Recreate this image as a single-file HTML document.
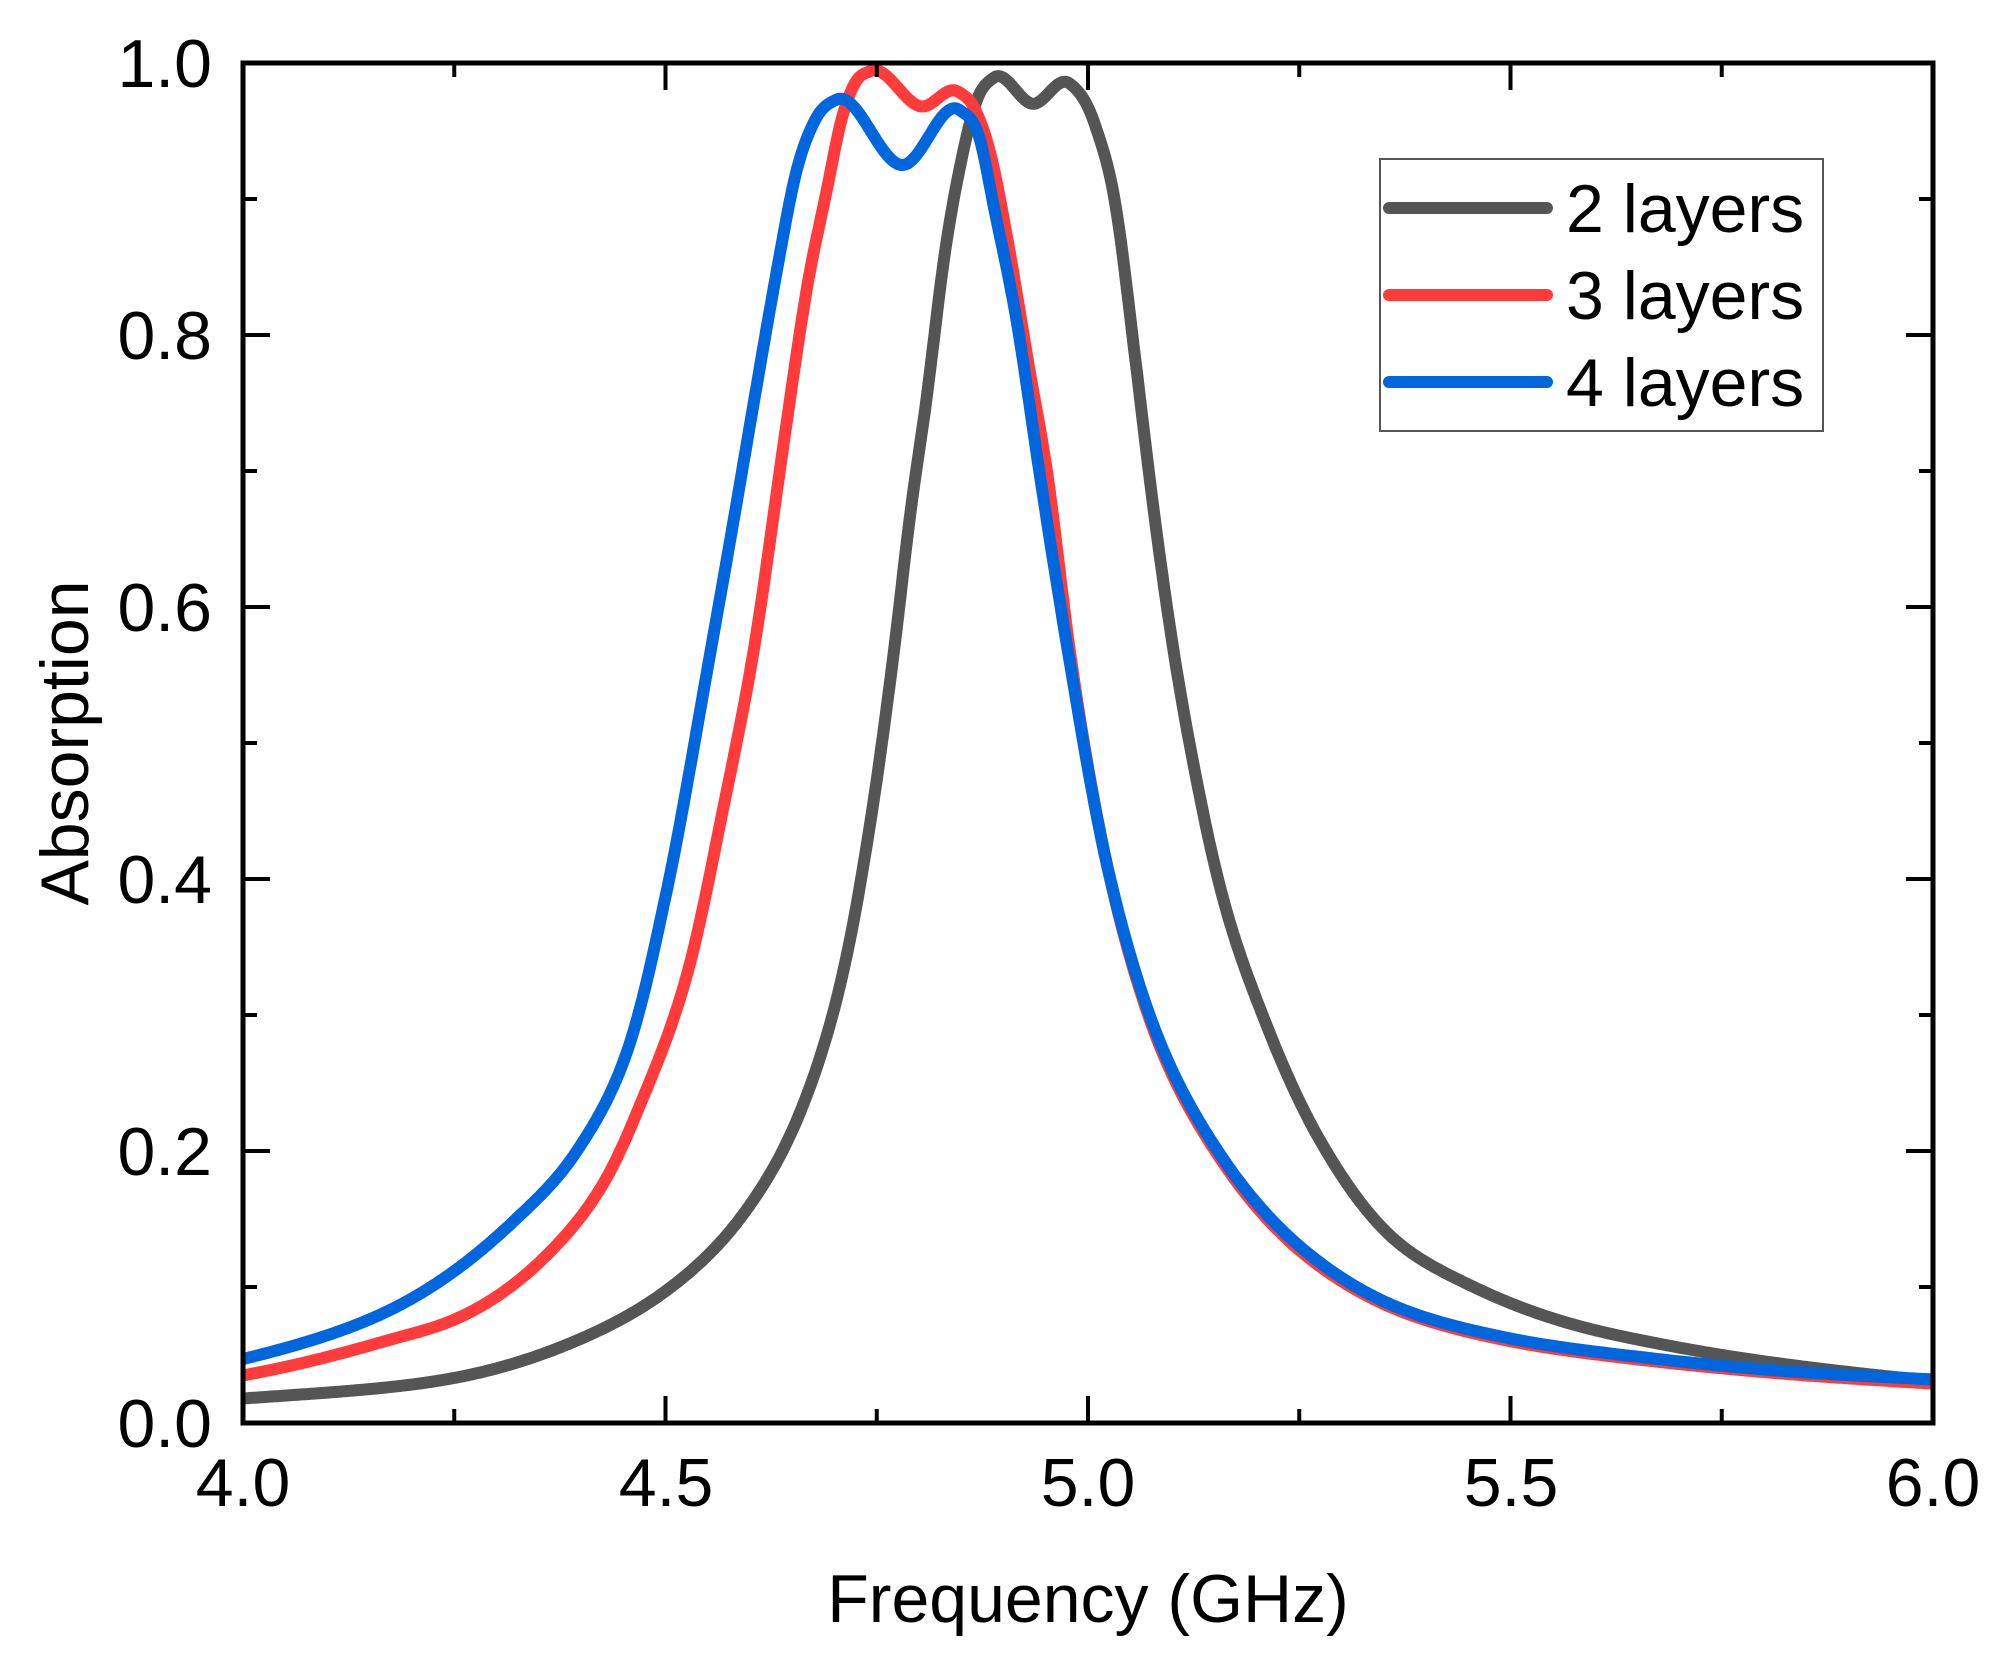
<!DOCTYPE html>
<html><head><meta charset="utf-8"><style>
html,body{margin:0;padding:0;background:#fff;}
svg text{font-family:"Liberation Sans",Arial,sans-serif;fill:#000;}
</style></head><body>
<svg id="s" width="2007" height="1659" viewBox="0 0 2007 1659" xmlns="http://www.w3.org/2000/svg">
<defs><clipPath id="c"><rect x="243" y="63" width="1690" height="1360"/></clipPath></defs>
<g id="curves" clip-path="url(#c)" fill="none" stroke-width="12" stroke-linejoin="round" stroke-linecap="round"></g>
<g id="ticks" stroke="#000" stroke-width="4"></g>
<rect x="243" y="63" width="1690" height="1360" fill="none" stroke="#000" stroke-width="5"/>
<g font-size="68" text-anchor="end">
<text x="212" y="1447">0.0</text>
<text x="212" y="1175">0.2</text>
<text x="212" y="903">0.4</text>
<text x="212" y="631">0.6</text>
<text x="212" y="359">0.8</text>
<text x="212" y="87">1.0</text>
</g>
<g font-size="68" text-anchor="middle">
<text x="243" y="1506">4.0</text>
<text x="666" y="1506">4.5</text>
<text x="1088" y="1506">5.0</text>
<text x="1511" y="1506">5.5</text>
<text x="1933" y="1506">6.0</text>
<text x="1088" y="1622">Frequency (GHz)</text>
<text transform="translate(88,743) rotate(-90)">Absorption</text>
</g>
<rect x="1380" y="159" width="443" height="272" fill="#fff" stroke="#555" stroke-width="2"/>
<g stroke-width="12" stroke-linecap="round">
<line x1="1389" y1="208" x2="1547" y2="208" stroke="#555"/>
<line x1="1389" y1="295" x2="1547" y2="295" stroke="#ff3b3b"/>
<line x1="1389" y1="382" x2="1547" y2="382" stroke="#0066dd"/>
</g>
<g font-size="68">
<text x="1566" y="232">2 layers</text>
<text x="1566" y="319">3 layers</text>
<text x="1566" y="406">4 layers</text>
</g>
</svg>
<script>
var X=function(f){return 243+(f-4)*845;},Y=function(a){return 1423-a*1360;};
var gray=[[4.0,0.018],[4.249,0.033],[4.4,0.062],[4.498,0.096],[4.589,0.151],[4.657,0.225],[4.71,0.331],[4.744,0.448],[4.769,0.561],[4.789,0.665],[4.808,0.749],[4.831,0.862],[4.849,0.925],[4.868,0.972],[4.888,0.989],[4.935,0.970],[4.978,0.985],[5.008,0.955],[5.034,0.890],[5.057,0.777],[5.079,0.665],[5.103,0.561],[5.124,0.487],[5.158,0.39],[5.211,0.293],[5.279,0.203],[5.359,0.137],[5.46,0.099],[5.56,0.075],[5.695,0.056],[6.0,0.031]];
var red=[[4.0,0.035],[4.167,0.06],[4.25,0.076],[4.362,0.125],[4.43,0.18],[4.47,0.234],[4.526,0.331],[4.567,0.448],[4.603,0.563],[4.640,0.721],[4.667,0.833],[4.690,0.904],[4.709,0.960],[4.724,0.985],[4.742,0.994],[4.804,0.968],[4.846,0.979],[4.867,0.965],[4.885,0.932],[4.903,0.876],[4.930,0.777],[4.953,0.693],[4.980,0.561],[5.023,0.409],[5.077,0.29],[5.158,0.193],[5.258,0.123],[5.359,0.085],[5.493,0.061],[5.661,0.046],[5.829,0.036],[6.0,0.029]];
var blue=[[4.0,0.047],[4.167,0.081],[4.318,0.147],[4.394,0.199],[4.455,0.274],[4.5,0.387],[4.545,0.538],[4.581,0.665],[4.608,0.763],[4.632,0.848],[4.654,0.918],[4.677,0.958],[4.702,0.973],[4.781,0.925],[4.849,0.965],[4.871,0.946],[4.890,0.890],[4.917,0.805],[4.944,0.693],[4.978,0.561],[5.023,0.409],[5.077,0.293],[5.158,0.196],[5.258,0.126],[5.359,0.087],[5.493,0.063],[5.661,0.048],[5.829,0.038],[6.0,0.032]];
function interp(d){
  var n=d.length,x=d.map(function(q){return q[0];}),y=d.map(function(q){return Math.log(q[1]);}),m=[];
  for(var i=0;i<n;i++){
    if(i==0)m[i]=(y[1]-y[0])/(x[1]-x[0]);
    else if(i==n-1)m[i]=(y[n-1]-y[n-2])/(x[n-1]-x[n-2]);
    else{var h0=x[i]-x[i-1],h1=x[i+1]-x[i],d0=(y[i]-y[i-1])/h0,d1=(y[i+1]-y[i])/h1;
      m[i]=(h1*d0+h0*d1)/(h0+h1);}
  }
  var pts=[];
  for(var i=0;i<n-1;i++){
    var h=x[i+1]-x[i],N=Math.max(4,Math.ceil(h/0.002));
    for(var k=0;k<N;k++){var t=k/N,t2=t*t,t3=t2*t;
      var v=(2*t3-3*t2+1)*y[i]+(t3-2*t2+t)*h*m[i]+(-2*t3+3*t2)*y[i+1]+(t3-t2)*h*m[i+1];
      pts.push([X(x[i]+t*h),Y(Math.exp(v))]);}
  }
  pts.push([X(x[n-1]),Y(Math.exp(y[n-1]))]);
  return "M"+pts.map(function(p){return p[0].toFixed(1)+","+p[1].toFixed(1);}).join("L");
}
var NS="http://www.w3.org/2000/svg",g=document.getElementById("curves");
[[gray,"#555"],[red,"#ff3b3b"],[blue,"#0066dd"]].forEach(function(k){var e=document.createElementNS(NS,"path");e.setAttribute("d",interp(k[0]));e.setAttribute("stroke",k[1]);g.appendChild(e);});
var t=document.getElementById("ticks"),s="";
for(var i=0;i<=8;i++){var x=X(4+i*0.25),L=(i%2==0)?27:14;s+="M"+x+",1423v-"+L+"M"+x+",63v"+L;}
for(var j=0;j<=10;j++){var y=Y(j*0.1),L2=(j%2==0)?27:14;s+="M243,"+y+"h"+L2+"M1933,"+y+"h-"+L2;}
var e=document.createElementNS(NS,"path");e.setAttribute("d",s);t.appendChild(e);
</script>
</body></html>
